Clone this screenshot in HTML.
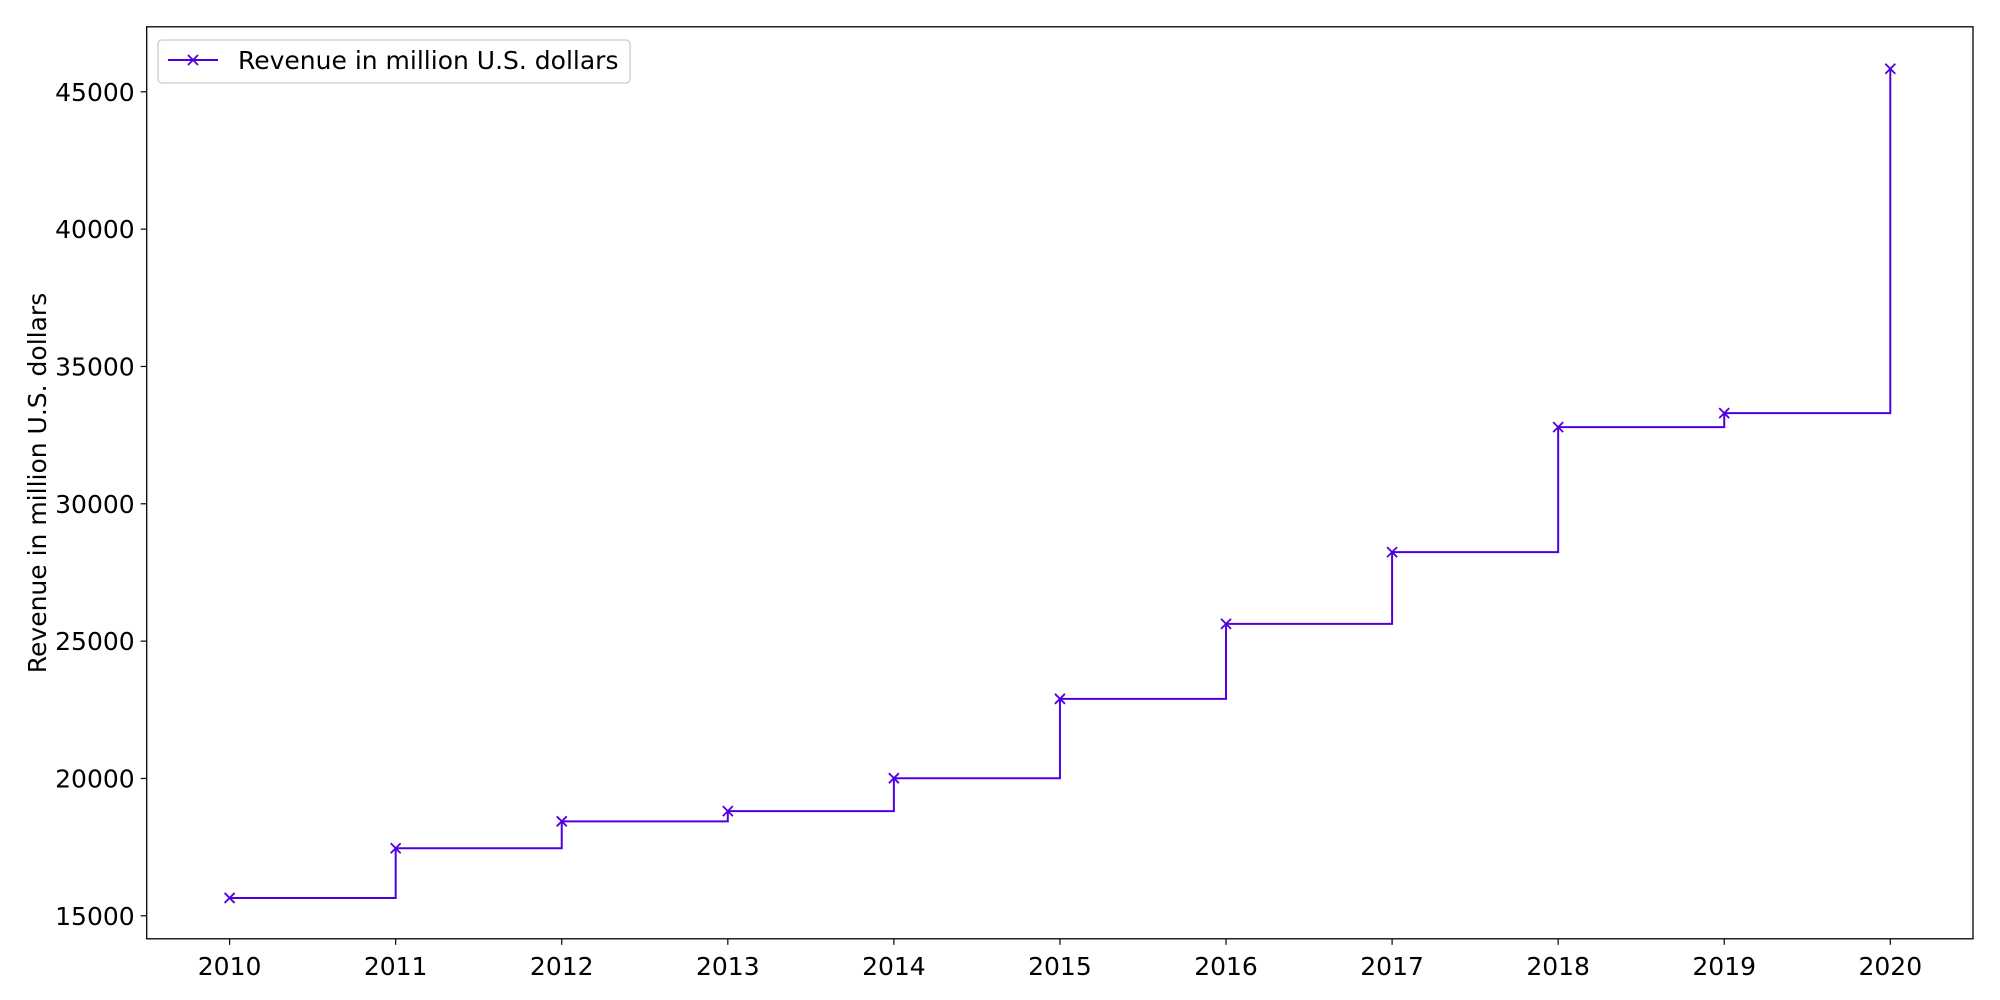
<!DOCTYPE html>
<html><head><meta charset="utf-8"><style>body{margin:0;background:#fff}svg{display:block;font-family:"DejaVu Sans","Liberation Sans",sans-serif}</style></head>
<body>
<svg id="chart" width="2000" height="1000"></svg>
<script>
const years=[2010,2011,2012,2013,2014,2015,2016,2017,2018,2019,2020];
const revenue=[15650,17460,18440,18810,20010,22900,25630,28240,32790,33300,45840];
const yTicks=[15000,20000,25000,30000,35000,40000,45000];
const L=146.7,R=1973,T=26.8,B=938.8;
const xs=v=>229.6+(v-2010)*(1890.3-229.6)/10;
const ys=v=>915.8-(v-15000)*(915.8-91.8)/30000;
const C='#5000e0';
const svg=document.getElementById('chart');const NS='http://www.w3.org/2000/svg';
function mk(t,a,p){const e=document.createElementNS(NS,t);for(const k in a)e.setAttribute(k,a[k]);(p||svg).appendChild(e);return e;}
let d='';revenue.forEach((v,i)=>{if(i==0)d+='M'+xs(years[i])+','+ys(v);else d+='H'+xs(years[i])+'V'+ys(v);});
const line=mk('path',{d:d,fill:'none',stroke:C,'stroke-width':2});


revenue.forEach((v,i)=>{const x=xs(years[i]),y=ys(v),s=5;
const m=mk('path',{d:`M${x-s},${y-s}L${x+s},${y+s}M${x-s},${y+s}L${x+s},${y-s}`,stroke:C,'stroke-width':1.8});

});
const ax=mk('rect',{x:L,y:T,width:R-L,height:B-T,fill:'none',stroke:'#000','stroke-width':1.3});


years.forEach(yr=>{const x=xs(yr);mk('line',{x1:x,x2:x,y1:B,y2:B+6,stroke:'#000','stroke-width':1.2});
const t=mk('text',{x:x,y:B+36,'text-anchor':'middle','font-size':25});t.textContent=yr;

});
yTicks.forEach(v=>{const y=ys(v);mk('line',{x1:L-6,x2:L,y1:y,y2:y,stroke:'#000','stroke-width':1.2});
const t=mk('text',{x:L-12,y:y+9,'text-anchor':'end','font-size':25});t.textContent=v;

});
const yt=mk('text',{transform:'translate(46,483) rotate(-90)','text-anchor':'middle','font-size':25});yt.textContent='Revenue in million U.S. dollars';


const lg=mk('g',{});


mk('rect',{x:158,y:40,width:472,height:43,rx:4,fill:'#fff',stroke:'#ccc','stroke-width':1.3},lg);
mk('line',{x1:168,x2:218,y1:60,y2:60,stroke:C,'stroke-width':2},lg);
mk('path',{d:'M188,55L198,65M188,65L198,55',stroke:C,'stroke-width':1.8},lg);
const lt=mk('text',{x:238,y:69,'font-size':25},lg);lt.textContent='Revenue in million U.S. dollars';


</script>
</body></html>
